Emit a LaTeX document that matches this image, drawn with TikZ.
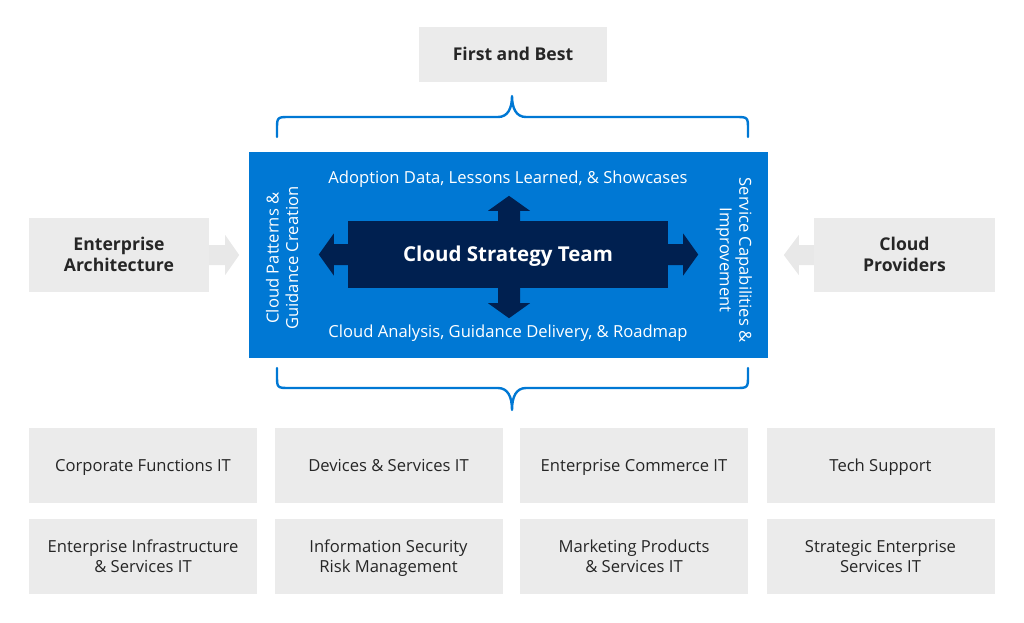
\documentclass[tikz,border=0pt]{standalone}
\usepackage{fontspec}
\setmainfont{Open Sans}
\usetikzlibrary{calc}
\definecolor{boxgray}{RGB}{235,235,235}
\definecolor{arrgray}{RGB}{232,232,232}
\definecolor{txtgray}{RGB}{38,38,38}
\definecolor{msblue}{RGB}{0,120,212}
\definecolor{navy}{RGB}{0,32,80}
\newcommand\capstrutA{\rule{0pt}{0.984em}}
\newcommand\capstrutB{\rule[-0.27em]{0pt}{0.27em}}
\begin{document}
\begin{tikzpicture}[x=1pt,y=-1pt,
  capcentered/.style={execute at begin node=\capstrutA, execute at end node=\capstrutB},
  graybox/.style={fill=boxgray, draw=none, text=txtgray, align=center, inner sep=0pt,
    capcentered, font=\fontsize{16.6}{19.5}\selectfont},
  titlebox/.style={graybox, font=\fontsize{17.6}{21}\selectfont\bfseries},
  whitetxt/.style={text=white, align=center, inner sep=0pt, capcentered,
    font=\fontsize{16.6}{19.5}\selectfont},
  brace/.style={draw=msblue, line width=2.4pt, line cap=round, line join=round},
  navyarrow/.style={fill=navy},
  grayarrow/.style={fill=arrgray}]
\useasboundingbox (0,0) rectangle (1024,622);

% top
\node[titlebox, minimum width=188pt, minimum height=55pt] (fab) at (513,54.5) {First and Best};

% braces
\draw[brace] (277,137) -- (277,130) .. controls (277,117) .. (290,117) -- (498,117)
  .. controls (508,117) and (512,108) .. (512,96)
  .. controls (512,108) and (516,117) .. (526,117) -- (735,117)
  .. controls (748,117) .. (748,130) -- (748,137);
\draw[brace] (277,368) -- (277,375) .. controls (277,388) .. (290,388) -- (498,388)
  .. controls (508,388) and (512,397) .. (512,410)
  .. controls (512,397) and (516,388) .. (526,388) -- (735,388)
  .. controls (748,388) .. (748,375) -- (748,368);

% blue box
\node[fill=msblue, minimum width=519pt, minimum height=206pt, inner sep=0pt] (blue) at (508.5,255) {};
\node[fill=navy, minimum width=320pt, minimum height=67pt, inner sep=0pt, text=white, capcentered,
  font=\fontsize{20.5}{24}\selectfont\bfseries] (cst) at (508,254.5) {Cloud Strategy Team};

% navy arrows
\fill[navyarrow] ($(cst.north)+(1,0)$) ++(-11,0) -- ++(0,-10) -- ++(-10,0) -- ++(21,-15) -- ++(21,15) -- ++(-10,0) -- ++(0,10) -- cycle;
\fill[navyarrow] ($(cst.south)+(1,0)$) ++(-11,0) -- ++(0,15) -- ++(-10,0) -- ++(21,15) -- ++(21,-15) -- ++(-10,0) -- ++(0,-15) -- cycle;
\fill[navyarrow] (cst.west) ++(0,-10.5) -- ++(-14,0) -- ++(0,-10.5) -- ++(-15,21) -- ++(15,21) -- ++(0,-10.5) -- ++(14,0) -- cycle;
\fill[navyarrow] (cst.east) ++(0,-10.5) -- ++(15,0) -- ++(0,-10.5) -- ++(15,21) -- ++(-15,21) -- ++(0,-10.5) -- ++(-15,0) -- cycle;

% blue box texts
\node[whitetxt] (adopt) at (508,178) {Adoption Data, Lessons Learned, \& Showcases};
\node[whitetxt] (analysis) at (508,332) {Cloud Analysis, Guidance Delivery, \& Roadmap};
\node[whitetxt, rotate=90] (patterns) at (282.5,258) {\capstrutA Cloud Patterns \&\\Guidance Creation};
\node[whitetxt, rotate=-90] (service) at (735.5,260) {\capstrutA Service Capabilities \&\\Improvement};

% side boxes
\node[titlebox, minimum width=180pt, minimum height=74pt] (ea) at (119,255) {\capstrutA Enterprise\\Architecture};
\node[titlebox, minimum width=181pt, minimum height=74pt] (cp) at (904.5,255) {\capstrutA Cloud\\Providers};
\fill[grayarrow] (ea.east) ++(0,-10) -- ++(16,0) -- ++(0,-10) -- ++(14,20) -- ++(-14,20) -- ++(0,-10) -- ++(-16,0) -- cycle;
\fill[grayarrow] (cp.west) ++(0,-10) -- ++(-15,0) -- ++(0,-10) -- ++(-15,20) -- ++(15,20) -- ++(0,-10) -- ++(15,0) -- cycle;

% grid
\foreach \n/\x/\y/\t in {
  g1/143/465.5/{Corporate Functions IT},
  g2/388.5/465.5/{Devices \& Services IT},
  g3/634/465.5/{Enterprise Commerce IT},
  g4/880.5/465.5/{Tech Support},
  g5/143/556.5/{\capstrutA Enterprise Infrastructure\\\& Services IT},
  g6/388.5/556.5/{\capstrutA Information Security\\Risk Management},
  g7/634/556.5/{\capstrutA Marketing Products\\\& Services IT},
  g8/880.5/556.5/{\capstrutA Strategic Enterprise\\Services IT}}
  \node[graybox, minimum width=228pt, minimum height=74.5pt] (\n) at (\x,\y) {\t};
\end{tikzpicture}
\end{document}
